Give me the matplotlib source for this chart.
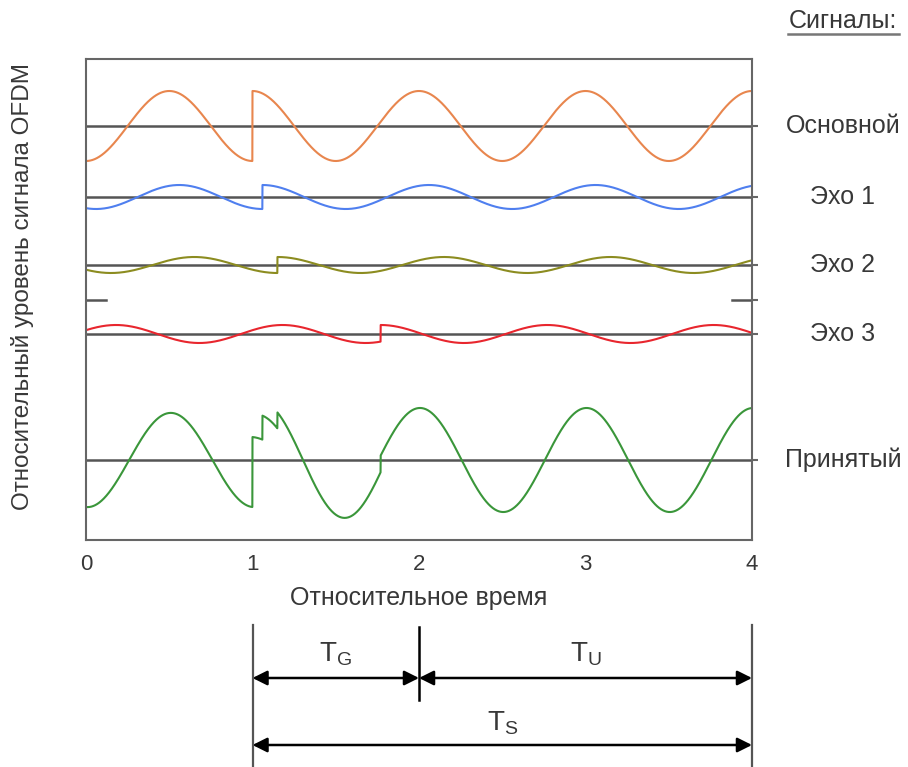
import numpy as np
import matplotlib
matplotlib.use("Agg")
import matplotlib.pyplot as plt

plt.rcParams["font.family"] = ["Liberation Sans", "DejaVu Sans"]
plt.rcParams["mathtext.fontset"] = "custom"
plt.rcParams["mathtext.rm"] = "Liberation Sans"

# --- данные (уровни в "пикселях" по вертикали) ---
signal_names = ["Основной", "Эхо 1", "Эхо 2", "Эхо 3"]
signal_colors = ["#E8864E", "#4F7FEF", "#8C8C20", "#E8262E"]
amplitudes = [35, 12, 8, 9]
pre_delays = [0.0, 0.06, 0.15, 0.68]     # фаза "предыдущего символа"
post_delays = [0.0, 0.06, 0.15, 0.77]    # задержка эха
jump_times = [1.0, 1.06, 1.15, 1.77]
baselines = [414, 343, 275, 206]

received_name = "Принятый"
received_color = "#3A963A"
received_baseline = 80

marker_level = 240          # короткие чёрточки у краёв
marker_spans = [(0.0, 0.12), (3.88, 4.0)]

xticks = [0, 1, 2, 3, 4]
tg_span = (1, 2)
tu_span = (2, 4)
ts_span = (1, 4)

TEXT = "#383838"
GRID = "#555555"
FS = 18

t = np.linspace(0, 4, 4001)

fig = plt.figure(figsize=(9.08, 7.67), dpi=100)
ax = fig.add_axes([86 / 908, 227 / 767, 666 / 908, 481 / 767])

total = np.zeros_like(t)
for amp, d_pre, d_post, tj, base, col in zip(amplitudes, pre_delays, post_delays,
                                             jump_times, baselines, signal_colors):
    y = np.where(t < tj,
                 -amp * np.cos(2 * np.pi * (t - d_pre)),
                 amp * np.cos(2 * np.pi * (t - d_post)))
    total += y
    ax.axhline(base, color=GRID, lw=1.8, zorder=1)
    ax.plot(t, base + y, color=col, lw=1.5, zorder=2)

ax.axhline(received_baseline, color=GRID, lw=1.8, zorder=1)
ax.plot(t, received_baseline + total, color=received_color, lw=1.5, zorder=2)

for x0, x1 in marker_spans:
    ax.plot([x0, x1], [marker_level, marker_level], color=GRID, lw=1.8)

ax.set_xlim(0, 4)
ax.set_ylim(0, 481)
ax.set_xticks(xticks)
ax.tick_params(axis="x", length=0, pad=10, labelsize=16, labelcolor=TEXT)
ax.yaxis.tick_right()
ax.set_yticks(baselines + [marker_level, received_baseline])
ax.tick_params(axis="y", length=4, width=1.5, color="#666666", labelright=False)
for sp in ax.spines.values():
    sp.set_color("#666666")
    sp.set_linewidth(1.5)

ax.set_xlabel("Относительное время", fontsize=FS, color=TEXT, labelpad=8)
ax.set_ylabel("Относительный уровень сигнала OFDM", fontsize=17.5, color=TEXT)
ax.yaxis.set_label_position("left")
ax.yaxis.set_label_coords(-0.078, 0.528)

# подписи сигналов справа
fig.text(843 / 908, 1 - 21 / 767, "Сигналы:", ha="center", va="center",
         fontsize=FS, color=TEXT)
fig.add_artist(plt.Line2D([788 / 908, 899 / 908], [1 - 34 / 767, 1 - 34 / 767],
                          color="#777777", lw=1.8))
for name, base in zip(signal_names + [received_name], baselines + [received_baseline]):
    fig.text(843 / 908, (227 + base) / 767, name, ha="center", va="center",
             fontsize=FS, color=TEXT)

# схема интервалов T_G, T_U, T_S
ax2 = fig.add_axes([86 / 908, 0, 666 / 908, 147 / 767])
ax2.set_xlim(0, 4)
ax2.set_ylim(0, 147)
ax2.axis("off")

ax2.plot([ts_span[0], ts_span[0]], [0, 142], color="#555555", lw=1.6, clip_on=False)
ax2.plot([ts_span[1], ts_span[1]], [0, 142], color="#555555", lw=1.6, clip_on=False)
ax2.plot([tg_span[1], tg_span[1]], [67, 140], color="black", lw=1.8, clip_on=False)

arrow = dict(arrowstyle="<|-|>", color="black", lw=1.8, mutation_scale=22,
             shrinkA=0, shrinkB=0)
ax2.annotate("", xy=(tg_span[1], 89), xytext=(tg_span[0], 89), arrowprops=arrow)
ax2.annotate("", xy=(tu_span[1], 89), xytext=(tu_span[0], 89), arrowprops=arrow)
ax2.annotate("", xy=(ts_span[1], 22), xytext=(ts_span[0], 22), arrowprops=arrow)

ax2.text(np.mean(tg_span), 113, r"$\mathrm{T_G}$", ha="center", va="center",
         fontsize=20, color=TEXT)
ax2.text(np.mean(tu_span), 113, r"$\mathrm{T_U}$", ha="center", va="center",
         fontsize=20, color=TEXT)
ax2.text(np.mean(ts_span), 44, r"$\mathrm{T_S}$", ha="center", va="center",
         fontsize=20, color=TEXT)

fig.savefig("out.png", dpi=100)
